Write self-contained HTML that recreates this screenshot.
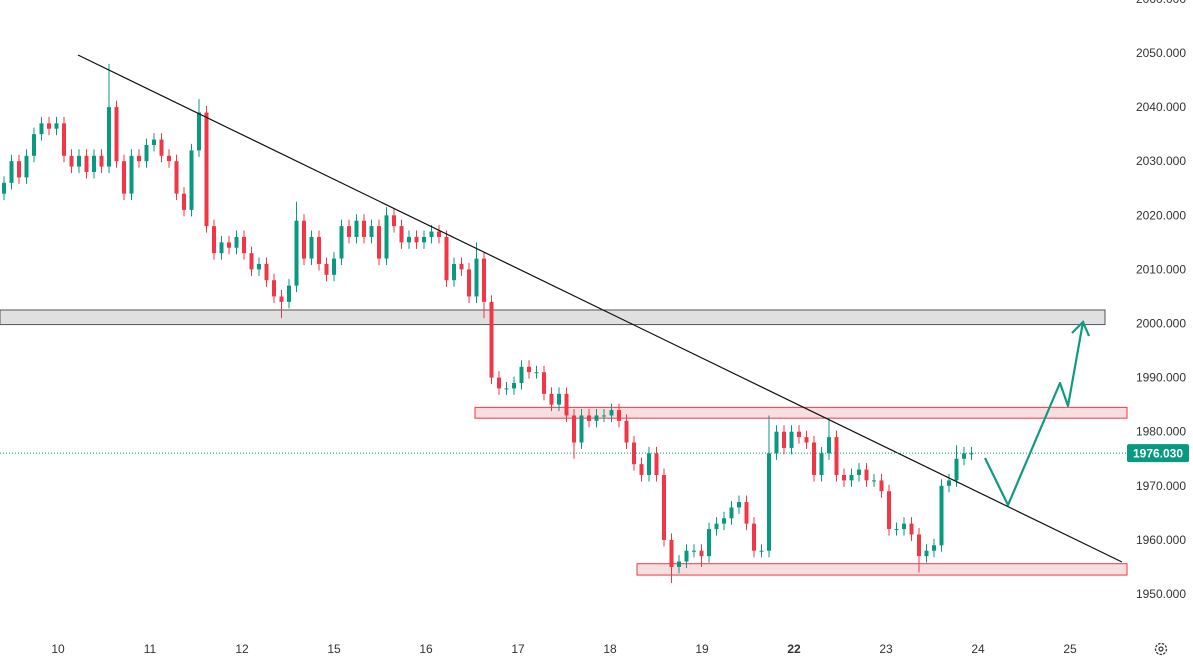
<!DOCTYPE html>
<html><head><meta charset="utf-8"><style>
body{margin:0;background:#fff;font-family:"Liberation Sans",sans-serif;}
svg{display:block}
</style></head><body>
<svg id="chart" width="1193" height="659" xmlns="http://www.w3.org/2000/svg"></svg>
<script>
const closes=[2026,2030,2027,2031,2035,2037,2036,2037,2031,2029,2031,2028,2031,2029,2040,2030,2024,2031,2030,2033,2034,2031,2030,2024,2021,2032,2039,2018,2013,2015,2014,2016,2013,2010,2011,2008,2005,2004,2007,2019,2012,2016,2011,2009,2012,2018,2016,2019,2016,2018,2012,2020,2018,2015,2016,2015,2016,2017,2016,2008,2011,2010,2005,2012,2004,1990,1988,1988,1989,1992,1991,1991,1987,1985,1987,1983,1978,1983,1982,1983,1983,1984,1982,1978,1974,1972,1976,1972,1960,1955,1956,1958,1958,1957,1962,1963,1964,1966,1967,1963,1958,1958,1976,1980,1977,1980,1979,1978,1972,1976,1979,1972,1971,1972,1973,1971,1971,1969,1962,1962,1963,1961,1957,1958,1959,1970,1971,1975,1976,1976];
const firstOpen=2024;
const spikeHigh={14:2048,26:2041.5,39:2022.5,51:2021.5,63:2015,102:1983,110:1982.5,127:1977.5};
const spikeLow={37:2001,64:2001,76:1975,89:1952,93:1955,122:1954};
const yTicks=[1950,1960,1970,1980,1990,2000,2010,2020,2030,2040,2050,2060];
const xLabels=["10","11","12","15","16","17","18","19","22","23","24","25"];
const lastPrice=1976.03;

const NS="http://www.w3.org/2000/svg";
const svg=document.getElementById('chart');
const y=v=>53+(2050-v)*5.41;
const x=i=>4+i*7.5;
const xDay=k=>58+k*92;
function el(t,a,p){const e=document.createElementNS(NS,t);for(const k in a)e.setAttribute(k,a[k]);(p||svg).appendChild(e);return e;}

// zones
let z=el('rect',{x:0,y:y(2002.5),width:1105,height:y(1999.8)-y(2002.5),fill:'#e0e0e0',stroke:'#555','stroke-width':1});


z=el('rect',{x:475,y:y(1984.5),width:652,height:y(1982.5)-y(1984.5),fill:'#f8dede',stroke:'#f23645','stroke-width':1});


z=el('rect',{x:637,y:y(1955.6),width:490,height:y(1953.5)-y(1955.6),fill:'#f8dede',stroke:'#f23645','stroke-width':1});



// candles
let prev=firstOpen;
closes.forEach((c,i)=>{
  const o=prev;prev=c;
  const up=c>=o;const col=up?'#089981':'#f23645';
  const hi=spikeHigh[i]!==undefined?spikeHigh[i]:Math.max(o,c)+1.2;
  const lo=spikeLow[i]!==undefined?spikeLow[i]:Math.min(o,c)-1.2;
  const g=el('g',{});
  
  
  el('line',{x1:x(i),x2:x(i),y1:y(hi),y2:y(lo),stroke:col,'stroke-width':1},g);
  const top=y(Math.max(o,c)),h=Math.max(1,y(Math.min(o,c))-top);
  el('rect',{x:x(i)-2,y:top,width:4,height:h,fill:col},g);
});

// trendline
let t=el('line',{x1:78,y1:55,x2:1122,y2:562,stroke:'#111','stroke-width':1.2});



// last price line
let d=el('line',{x1:0,x2:1127,y1:y(lastPrice),y2:y(lastPrice),stroke:'#089981','stroke-width':1,'stroke-dasharray':'1 2'});



// projection arrow
let a=el('polyline',{points:'985,458 1008,505 1060,383 1068,406 1083,322',fill:'none',stroke:'#0f9a82','stroke-width':2.2,'stroke-linejoin':'round'});


el('polyline',{points:'1072,333 1083,322 1089,336',fill:'none',stroke:'#0f9a82','stroke-width':2.2});

// y axis labels
yTicks.forEach(v=>{
  const tx=el('text',{x:1186,y:y(v)+4,'text-anchor':'end','font-size':12,fill:'#333'});
  tx.textContent=v.toFixed(3);
  
  
});
// price label
let pl=el('rect',{x:1127,y:y(lastPrice)-9,width:62,height:18,rx:2,fill:'#089981'});


let pt=el('text',{x:1158,y:y(lastPrice)+4.5,'text-anchor':'middle','font-size':12,'font-weight':'bold',fill:'#fff'});
pt.textContent=lastPrice.toFixed(3);



// x labels
xLabels.forEach((l,k)=>{
  const tx=el('text',{x:xDay(k),y:653,'text-anchor':'middle','font-size':12,fill:'#333','font-weight':l==='22'?'bold':'normal'});
  tx.textContent=l;
  
  
});
// gear
let gr=el('g',{});


el('circle',{cx:1161,cy:649,r:5.5,fill:'none',stroke:'#333','stroke-width':1.3,'stroke-dasharray':'2.5 1.3'},gr);
el('circle',{cx:1161,cy:649,r:2,fill:'none',stroke:'#333','stroke-width':1.2},gr);
</script>
</body></html>
